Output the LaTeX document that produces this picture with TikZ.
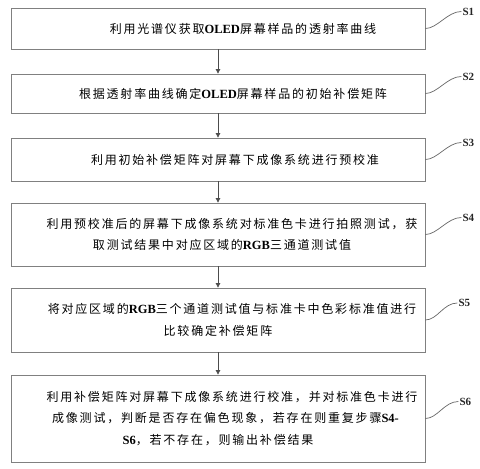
\documentclass[tikz,border=0pt]{standalone}
\usepackage{fontspec}
\setmainfont{Liberation Serif}
\newfontfamily\cjk[LetterSpace=15]{Noto Sans CJK SC}
\newcommand{\lat}[1]{{\rmfamily\bfseries\fontsize{12.5}{21.5}\selectfont #1}}
\usetikzlibrary{arrows.meta}
\begin{document}
\begin{tikzpicture}[x=1pt,y=-1pt,
  box/.style={draw=black!50, line width=0.8pt, minimum width=414pt, inner sep=0pt,
    align=center, font=\cjk\fontsize{12}{21.5}\selectfont, text=black},
  arr/.style={draw=black!70, line width=0.7pt, -{Triangle[length=4.5pt,width=4.5pt]}},
  squig/.style={draw=black!60, line width=0.7pt},
  slabel/.style={anchor=west, inner sep=1pt, font=\bfseries\fontsize{11}{12}\selectfont, text=black!85}]
\useasboundingbox (0,0) rectangle (480,469);
\node[box, minimum height=41pt] (b1) at (218,28.5) {\hspace*{50pt}利用光谱仪获取\lat{OLED}屏幕样品的透射率曲线};
\node[box, minimum height=39pt] (b2) at (218,93.5) {\hspace*{30pt}根据透射率曲线确定\lat{OLED}屏幕样品的初始补偿矩阵};
\node[box, minimum height=43pt] (b3) at (218,159.5) {\hspace*{34pt}利用初始补偿矩阵对屏幕下成像系统进行预校准};
\node[box, minimum height=63pt] (b4) at (218,234.5) {\hspace*{28pt}利用预校准后的屏幕下成像系统对标准色卡进行拍照测试，获\\\hspace*{8pt}取测试结果中对应区域的\lat{RGB}三通道测试值};
\node[box, minimum height=64pt] (b5) at (218,320) {\hspace*{28pt}将对应区域的\lat{RGB}三个通道测试值与标准卡中色彩标准值进行\\比较确定补偿矩阵};
\node[box, minimum height=87pt] (b6) at (218,418.5) {\hspace*{28pt}利用补偿矩阵对屏幕下成像系统进行校准，并对标准色卡进行\\\hspace*{15pt}成像测试，判断是否存在偏色现象，若存在则重复步骤\lat{S4-}\\\lat{S6}，若不存在，则输出补偿结果};
\draw[arr] (b1.south) -- (b2.north);
\draw[arr] (b2.south) -- (b3.north);
\draw[arr] (b3.south) -- (b4.north);
\draw[arr] (b4.south) -- (b5.north);
\draw[arr] (b5.south) -- (b6.north);
\node[slabel] (s1) at ([xshift=36pt,yshift=17pt]b1.east) {S1};
\node[slabel] (s2) at ([xshift=36pt,yshift=17pt]b2.east) {S2};
\node[slabel] (s3) at ([xshift=36pt,yshift=17pt]b3.east) {S3};
\node[slabel] (s4) at ([xshift=36pt,yshift=17pt]b4.east) {S4};
\node[slabel] (s5) at ([xshift=32pt,yshift=17pt]b5.east) {S5};
\node[slabel] (s6) at ([xshift=33pt,yshift=17pt]b6.east) {S6};
\foreach \i in {1,...,6}{
  \draw[squig] (b\i.east) .. controls +(12,0) and +(-14,0) .. (s\i.west);
}
\end{tikzpicture}
\end{document}
